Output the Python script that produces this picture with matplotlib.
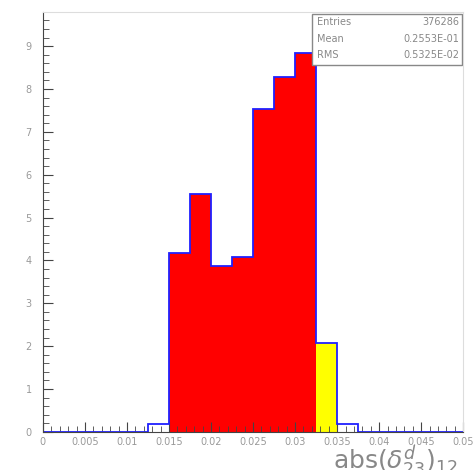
import matplotlib.pyplot as plt
import numpy as np

# Contenido por bin (20 bins de 0 a 0.05)
bordes = np.linspace(0, 0.05, 21)
cuentas = [0, 0, 0, 0, 0, 0.18, 4.18, 5.56, 3.86, 4.09,
           7.54, 8.29, 8.84, 2.07, 0.19, 0, 0, 0, 0, 0]
# Rango relleno en rojo y en amarillo
rojo = (0.015, 0.0325)
amarillo = (0.0325, 0.035)

# Caja de estadisticas
etiquetas_stats = ['Entries', 'Mean', 'RMS']
valores_stats = ['376286', '0.2553E-01', '0.5325E-02']

fig = plt.figure(figsize=(4.77, 4.70), dpi=100)
ax = fig.add_axes([0.090, 0.081, 0.881, 0.893])

centros = (bordes[:-1] + bordes[1:]) / 2
ancho = bordes[1] - bordes[0]
for c, h in zip(centros, cuentas):
    if rojo[0] < c < rojo[1]:
        ax.bar(c, h, width=ancho, color='#ff0000', linewidth=0, zorder=1)
    elif amarillo[0] < c < amarillo[1]:
        ax.bar(c, h, width=ancho, color='#ffff00', linewidth=0, zorder=1)

# Contorno del histograma
ax.stairs(cuentas, bordes, baseline=0, color='#2020ff', linewidth=1.3, zorder=2)

ax.set_xlim(0, 0.05)
ax.set_ylim(0, 9.79)
ax.set_xticks(np.arange(0, 0.0501, 0.005))
ax.set_xticklabels(['0', '0.005', '0.01', '0.015', '0.02', '0.025',
                    '0.03', '0.035', '0.04', '0.045', '0.05'])
ax.set_xticks(np.arange(0, 0.0501, 0.001), minor=True)
ax.set_yticks(range(0, 10))
ax.set_yticks(np.arange(0, 9.8, 0.2), minor=True)

gris = '#999999'
ax.tick_params(which='both', direction='in', colors='#444444',
               labelcolor=gris, labelsize=7, top=False, right=False)
ax.tick_params(which='major', length=7)
ax.tick_params(which='minor', length=4)
ax.tick_params(axis='x', pad=4)
ax.tick_params(axis='y', pad=8)
ax.spines['left'].set_color('#444444')
ax.spines['bottom'].set_color('#444444')
ax.spines['top'].set_color('#dddddd')
ax.spines['right'].set_color('#dddddd')

# Caja de estadisticas arriba a la derecha
caja = plt.Rectangle((0.641, 0.875), 0.357, 0.121, transform=ax.transAxes,
                     facecolor='white', edgecolor='#888888', linewidth=1.0, zorder=5)
ax.add_patch(caja)
for i, (et, val) in enumerate(zip(etiquetas_stats, valores_stats)):
    y = 0.977 - i * 0.04
    ax.text(0.652, y, et, transform=ax.transAxes, fontsize=7, color='#888888',
            va='center', ha='left', zorder=6)
    ax.text(0.990, y, val, transform=ax.transAxes, fontsize=7, color='#888888',
            va='center', ha='right', zorder=6)

# Titulo del eje x, cortado por el borde inferior
fig.text(0.698, 0.001, r'$\mathrm{abs}(\delta^{d}_{23})_{12}$', fontsize=18,
         color='#888888', ha='left', va='baseline')

fig.savefig('out.png', dpi=100)
